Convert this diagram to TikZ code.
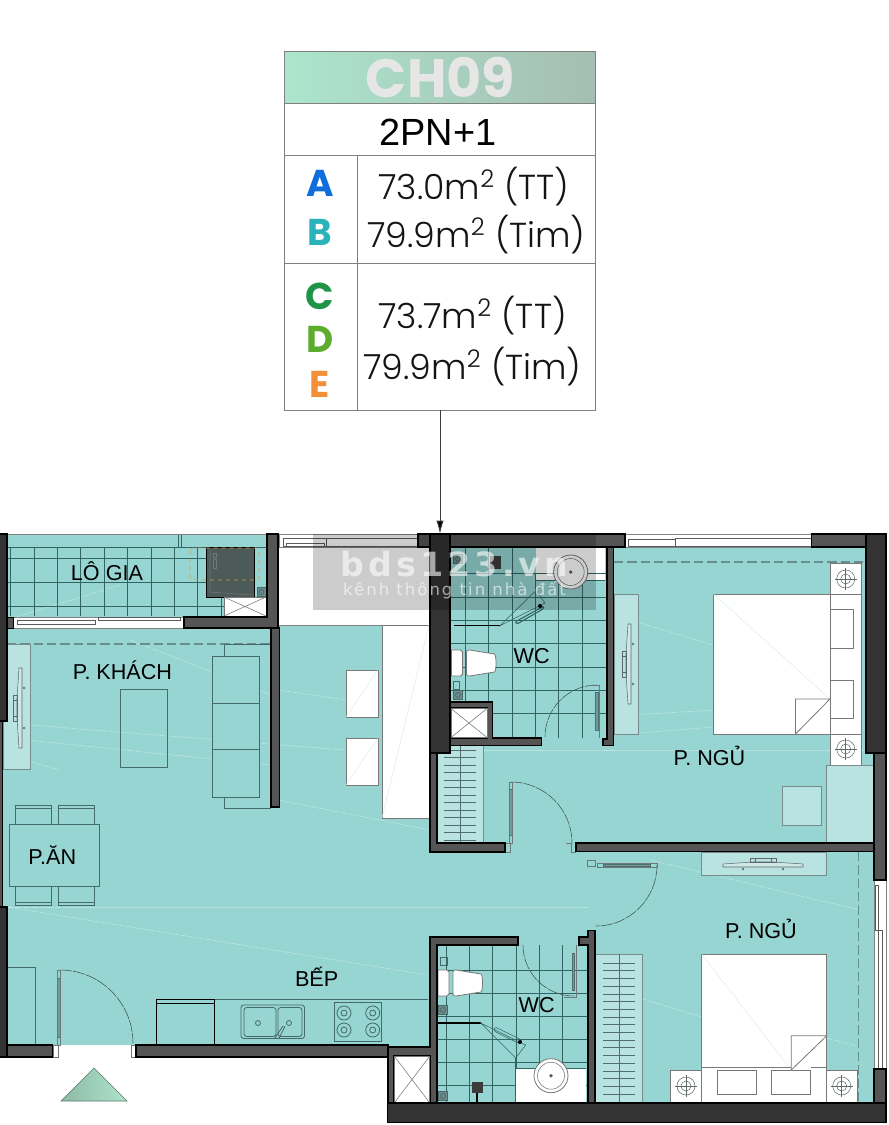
\documentclass[tikz,border=0pt]{standalone}
\usepackage{fontspec}
\setmainfont{Liberation Sans}
\newfontfamily\areafont{Poppins Light}
\newfontfamily\tagfont{Poppins Bold}
\newfontfamily\markfont[LetterSpace=12]{DejaVu Sans}
\usetikzlibrary{arrows.meta}

\tikzset{every picture/.style={line width=0.75pt}}
\tikzset{
  floorfill/.style={fill={rgb, 255:red, 150; green, 213; blue, 209 },draw=none},
  paleset/.style={fill={rgb, 255:red, 184; green, 227; blue, 224 },draw={rgb, 255:red, 120; green, 140; blue, 140 },line width=0.5pt},
  wallgrey/.style={fill={rgb, 255:red, 85; green, 85; blue, 85 },draw=black,line width=1pt},
  walldark/.style={fill={rgb, 255:red, 51; green, 51; blue, 51 },draw=black,line width=1pt},
  tileline/.style={draw={rgb, 255:red, 50; green, 100; blue, 100 },line width=0.4pt},
  stepline/.style={draw={rgb, 255:red, 80; green, 110; blue, 110 },line width=0.4pt},
  furn/.style={draw={rgb, 255:red, 70; green, 105; blue, 105 },line width=0.6pt},
  lampline/.style={draw={rgb, 255:red, 95; green, 105; blue, 105 },line width=0.4pt},
  whitefurn/.style={fill=white,draw={rgb, 255:red, 120; green, 120; blue, 120 },line width=0.6pt},
  faintdiag/.style={draw={rgb, 255:red, 208; green, 238; blue, 234 },line width=0.3pt},
  doorleaf/.style={fill={rgb, 255:red, 110; green, 155; blue, 155 },draw={rgb, 255:red, 80; green, 110; blue, 110 },line width=0.4pt},
  doorswing/.style={draw={rgb, 255:red, 60; green, 80; blue, 80 },line width=0.4pt,dash pattern={on 9pt off 0.8pt}},
  frameline/.style={draw={rgb, 255:red, 110; green, 120; blue, 120 },line width=0.4pt},
  sashline/.style={fill=white,draw={rgb, 255:red, 90; green, 90; blue, 90 },line width=0.5pt},
  floordash/.style={draw={rgb, 255:red, 105; green, 140; blue, 140 },line width=0.8pt,dash pattern={on 7pt off 3pt}},
  glint/.style={draw=white,opacity=0.35,line width=0.5pt,dash pattern={on 5pt off 1pt}},
  gridrule/.style={draw={rgb, 255:red, 128; green, 128; blue, 128 },line width=0.6pt},
  roomlabel/.style={font=\fontsize{16.2}{16}\selectfont,text=black},
  arealabel/.style={font=\areafont\fontsize{26}{26}\selectfont,text={rgb, 255:red, 20; green, 20; blue, 20 }},
  taglabel/.style={font=\tagfont\fontsize{28}{28}\selectfont}
}
\newcommand{\lampmark}[2]{
  \draw [lampline] (#1,#2) circle (9) (#1,#2) circle (5);
  \draw [lampline] (#1-11,#2) -- (#1+11,#2) (#1,#2-11) -- (#1,#2+11);
}
\newcommand{\drainmark}[2]{
  \draw [fill={rgb, 255:red, 110; green, 140; blue, 140 },furn] (#1-4.5,#2-4.5) rectangle (#1+4.5,#2+4.5);
  \draw [furn] (#1,#2) circle (2.5);
}
\newcommand{\shaftbox}[4]{
  \draw [whitefurn] (#1,#2) rectangle (#3,#4);
  \draw [frameline] (#1,#2) -- (#3,#4) (#1,#4) -- (#3,#2);
}
\newcommand{\bowlset}[2]{
  \draw [whitefurn] (#1,#2) -- (#1+9,#2) -- (#1+11,#2+2) -- (#1+11,#2+24) -- (#1+9,#2+26) -- (#1,#2+26) -- cycle;
  \draw [whitefurn] (#1+15,#2+2) .. controls (#1+15,#2) and (#1+16,#2) .. (#1+18,#2) -- (#1+43,#2+4) .. controls (#1+45,#2+5) and (#1+45,#2+21) .. (#1+43,#2+22) -- (#1+18,#2+26) .. controls (#1+16,#2+26) and (#1+15,#2+26) .. (#1+15,#2+24) -- cycle;
}
\newcommand{\screenset}[3]{
  \begin{scope}[shift={(#1,#2)},rotate=#3]
    \draw [lampline,fill={rgb, 255:red, 205; green, 232; blue, 230 }] (-1,-40) -- (2,-40) -- (2,40) -- (-1,40) -- (-3,10) -- (-3,-10) -- cycle;
    \draw [lampline] (-3,-13) rectangle (-7,13) (-6,-8) -- (-3,-8) (-6,8) -- (-3,8);
    \draw [lampline] (4,-20) circle (1) (4,20) circle (1);
  \end{scope}
}
\newcommand{\basinset}[2]{
  \draw [whitefurn] (#1,#2) circle (17);
  \draw [frameline] (#1,#2) circle (13.5);
  \draw [fill={rgb, 255:red, 90; green, 90; blue, 90 },draw=none] (#1,#2) circle (1.8);
}

\begin{document}
\begin{tikzpicture}[x=0.75pt,y=0.75pt,yscale=-1,xscale=1]
\useasboundingbox (0,0) rectangle (889,1125);

%Shape: Floor
\fill [floorfill] (3,534) -- (278,534) -- (278,625) -- (430,625) -- (430,534) -- (875,534) -- (875,1103) -- (388,1103) -- (388,1045) -- (3,1045) -- cycle ;

%Straight Lines: floor glints
\draw [glint] (7,907) -- (428,975) ;
\draw [glint] (7,907) -- (588,907) ;
\draw [glint] (278,690) -- (430,712) ;
\draw [glint] (30,725) -- (345,750) ;
\draw [glint] (5,755) -- (60,770) ;
\draw [glint] (278,800) -- (430,830) ;
\draw [glint] (614,615) -- (713,645) ;
\draw [glint] (614,716) -- (866,701) ;
\draw [glint] (614,735) -- (713,727) ;
\draw [glint] (450,750) -- (875,750) ;
\draw [glint] (650,860) -- (860,910) ;
\draw [glint] (595,984) -- (701,1017) ;
\draw [glint] (826,1038) -- (858,1046) ;
\draw [glint] (7,620) -- (120,585) ;
\draw [glint] (130,640) -- (271,695) ;
\draw [glint] (7,738) -- (271,765) ;

%Shape: void beside the loggia
\fill [white] (279,547) rectangle (429,625);
\draw [gridrule] (279,625) -- (429,625);
\draw [whitefurn] (382,625) rectangle (429,818);
\draw [faintdiag] (382,818) -- (429,625);
\draw [whitefurn] (346,670) rectangle (378,717);
\draw [faintdiag] (346,717) -- (378,670);
\draw [whitefurn] (346,738) rectangle (378,785);
\draw [faintdiag] (346,785) -- (378,738);

%Shape: Loggia tiles
\foreach \tx in {10,34,57,80,104,127,151,174,197,221} \draw [tileline] (\tx,547) -- (\tx,616);
\foreach \ty in {558,582,606} \draw [tileline] (8,\ty) -- (224,\ty);
\draw [tileline] (8,547) -- (267,547) (178,534) -- (178,547) (181,534) -- (181,547);
\draw [gridrule] (7,534.5) -- (267,534.5);

%Shape: washer
\draw [fill={rgb, 255:red, 76; green, 90; blue, 88 },draw=black,line width=0.5pt] (206,547) rectangle (254,597);
\draw [frameline] (210,550) -- (210,592) -- (252,595);
\draw [frameline] (213,553) rectangle (216,557) (213,559) rectangle (216,568);
\draw [draw={rgb, 255:red, 210; green, 160; blue, 80 },line width=0.4pt,dashed,rounded corners=2pt] (190,548) rectangle (259,580);
\shaftbox{224}{597}{266}{616}
\drainmark{261.5}{592}

%Shape: Living room furniture
\draw [floordash] (7,644) -- (271,644);
\draw [furn] (224,644) rectangle (270,808);
\draw [furn,floorfill] (212,656) rectangle (259,703);
\draw [furn,floorfill] (212,703) rectangle (259,749);
\draw [furn,floorfill] (212,749) rectangle (259,797);
\draw [furn] (212,656) rectangle (259,703) (212,703) rectangle (259,749) (212,749) rectangle (259,797);
\draw [furn] (120,689) rectangle (167,767);
\draw [paleset] (3,644) rectangle (30,769);
\screenset{20}{708}{0}

%Shape: Dining set
\draw [furn] (15,805) rectangle (51,824) (58,805) rectangle (94,824);
\draw [furn] (15,886) rectangle (51,905) (58,886) rectangle (94,905);
\draw [furn] (15,902) -- (51,902) (58,902) -- (94,902) (15,808) -- (51,808) (58,808) -- (94,808);
\draw [furn] (9.5,824) rectangle (99.5,886);

%Shape: Kitchen
\draw [furn] (7,967) rectangle (35,1045);
\draw [furn] (156.5,999) -- (428,999);
\draw [draw=black,line width=0.5pt] (156.5,999) rectangle (214.5,1045) (156.5,1003) -- (214.5,1003);
\draw [furn,rounded corners=2pt] (241,1005) rectangle (304.5,1038.5) (244,1007.5) rectangle (276,1036.5) (278,1007.5) rectangle (302,1036.5);
\draw [furn] (258,1023) circle (2.5) (289,1023) circle (2.5);
\draw [furn] (283,1026) -- (275,1038) -- (279,1038.5) -- (285,1026) ;
\draw [furn] (334,1002) rectangle (381.5,1041.5);
\foreach \bx in {344,372.7} \foreach \by in {1013,1030} {
  \draw [furn] (\bx,\by) circle (7) (\bx,\by) circle (3);
}

%Shape: Bedroom one
\draw [floordash] (614,562) -- (866,562);
\draw [paleset] (614,594) rectangle (638.5,734);
\screenset{629}{664}{0}
\draw [whitefurn] (830.5,563) rectangle (861.5,594);
\draw [whitefurn] (830.5,734) rectangle (861.5,765.5);
\lampmark{845.7}{579}
\lampmark{845.7}{749}
\draw [whitefurn] (826.5,594) rectangle (861.5,734);
\draw [whitefurn] (827,609) rectangle (853.5,648) (827,680) rectangle (853.5,718.5);
\draw [whitefurn] (713.5,594) rectangle (830,734);
\draw [faintdiag] (713.5,594) -- (830,699);
\draw [whitefurn] (795.5,734) -- (795.5,699) -- (830,699) -- cycle;
\draw [paleset] (826.5,765.5) rectangle (873,843);
\draw [paleset] (782,786) rectangle (821.5,825.5);

%Shape: Bedroom two
\draw [floordash] (858.7,852) -- (858.7,1103);
\draw [paleset] (701.7,852) rectangle (826.7,875);
\screenset{763}{865}{90}
\draw [whitefurn] (670.7,1070.7) rectangle (701.7,1103) (826.7,1070.7) rectangle (857,1103);
\lampmark{686}{1086}
\lampmark{841.7}{1086}
\draw [whitefurn] (701.7,954) rectangle (826.7,1103);
\draw [faintdiag] (701.7,954) -- (791.3,1070);
\draw [whitefurn] (701.7,1067) -- (791.3,1067) (810.7,1067) -- (826.7,1067);
\draw [whitefurn] (717,1070) rectangle (756.7,1094) (771.7,1070) rectangle (810.7,1094);
\draw [whitefurn] (791.3,1070) -- (791.3,1035.7) -- (826.7,1035.7) -- cycle;

%Shape: Stair panels
\draw [paleset] (437,745) rectangle (483,843);
\foreach \ly in {750,757.5,...,842} \draw [stepline] (444,\ly) -- (476,\ly);
\draw [stepline] (460.6,745) -- (460.6,843);
\draw [paleset] (595.7,954) rectangle (642,1103);
\foreach \ly in {963,970.7,...,1100} \draw [stepline] (603,\ly) -- (635,\ly);
\draw [stepline] (619,954) -- (619,1103);

%Shape: WC one
\fill [white] (535.7,547) rectangle (605,580.7);
\draw [tileline] (535.7,580.7) -- (605,580.7);
\foreach \tx in {465,488,512,535,558,582} \draw [tileline] (\tx,573) -- (\tx,738);
\foreach \tx in {465,488,512} \draw [tileline] (\tx,547) -- (\tx,573);
\foreach \ty in {573,597,620,643,667,690,713} \draw [tileline] (450,\ty) -- (607,\ty);
\draw [draw=black,line width=0.8pt] (454,625.7) -- (500,625.7);
\draw [tileline] (500,625.7) -- (535.7,590.7) -- (545,603) -- cycle;
\draw [tileline,line width=0.8pt,rounded corners=1pt] (515,622) -- (544,606) -- (543,609) -- (517,624) -- cycle;
\draw [fill=black,draw=none] (540,606) circle (2);
\draw [fill={rgb, 255:red, 60; green, 60; blue, 60 },draw=none] (490,556) rectangle (500.7,569);
\drainmark{458}{559}
\basinset{570.7}{572}
\bowlset{451.5}{650}
\draw [furn] (453,681) rectangle (459,689);
\drainmark{458}{695}
\draw [doorswing] (597,685) arc (-90:-180:52);
\draw [doorleaf] (595.5,692) rectangle (598,730);
\draw [frameline] (589,685) -- (599,685) -- (599,738);

%Shape: WC two
\foreach \tx in {446.7,469,492.7,516,539,562.7} \draw [tileline] (\tx,945) -- (\tx,1103);
\foreach \ty in {970,993,1016,1039,1062,1085.7} \draw [tileline] (437,\ty) -- (588,\ty);
\fill [white] (515.7,1068) rectangle (586,1103);
\draw [tileline] (515.7,1068) -- (586,1068);
\draw [draw=black,line width=0.8pt] (438,1023) -- (480.7,1023);
\draw [tileline] (480.7,1023) -- (515.7,1058) -- (525.7,1045) -- cycle;
\draw [tileline,line width=0.8pt] (515.7,1058) -- (515.7,1103);
\draw [tileline,rounded corners=1pt] (495,1027) -- (522,1040) -- (520,1044) -- (494,1031) -- cycle;
\draw [fill=black,draw=none] (520,1042) circle (2);
\draw [fill={rgb, 255:red, 60; green, 60; blue, 60 },draw=none] (471.7,1081.7) rectangle (483,1093);
\draw [draw=black,line width=0.8pt] (477,1093) -- (477,1103);
\drainmark{443}{1010}
\drainmark{443}{1096}
\basinset{551}{1075.7}
\bowlset{438}{970}
\draw [furn] (440,957) rectangle (447,965);
\draw [doorswing] (523,945) arc (180:90:51);
\draw [doorleaf] (572,953) rectangle (574.5,990);
\draw [frameline] (564,997) -- (576,997) -- (576,945);

%Shape: Entrance and hall doors
\fill [white] (52,1045) rectangle (136,1057);
\draw [doorswing] (60,970) arc (-90:0:73);
\draw [doorleaf] (57,978) rectangle (60.5,1037);
\draw [frameline] (57,970) rectangle (60.5,1045) (53,1045) rectangle (58,1057) (131,1045) rectangle (135.5,1057);
\draw [doorswing] (511,782) arc (-90:0:61);
\draw [doorleaf] (509.5,789) rectangle (512,835);
\draw [frameline] (509.5,782) rectangle (512,843) (505.5,843) -- (510,843) -- (510,852) -- (505.5,852) (566,843) -- (571,843) -- (571,852) -- (576,852);
\draw [doorswing] (657,865) arc (0:90:61);
\draw [doorleaf] (603,864) rectangle (650,866.5);
\draw [frameline] (597,863.5) rectangle (657,867) (587,860) rectangle (595,866);

%Shape: Windows
\draw [sashline,draw={rgb, 255:red, 130; green, 130; blue, 130 }] (13,617) rectangle (184,628);
\draw [sashline] (17,620) rectangle (95,624.5) (98,617) rectangle (180,620.5);
\draw [sashline,draw={rgb, 255:red, 130; green, 130; blue, 130 }] (279,534) rectangle (418,547);
\draw [sashline] (283,538.5) rectangle (326,546) (326,538.5) rectangle (418,546) (286,543) rectangle (324,546);
\draw [sashline,draw={rgb, 255:red, 130; green, 130; blue, 130 }] (625,534) rectangle (811.5,547);
\draw [sashline] (628,539) rectangle (675,546.5) (675,538.5) rectangle (811,546);
\draw [sashline,draw={rgb, 255:red, 130; green, 130; blue, 130 }] (874,880) rectangle (886,1069);
\draw [sashline] (875,885) rectangle (878,930) (878,930) rectangle (882,1068);

%Shape: Walls
\draw [wallgrey] (267,534) -- (278,534) -- (278,628) -- (184,628) -- (184,617) -- (267,617) -- cycle;
\draw [wallgrey] (271,628) rectangle (279.5,807);
\draw [walldark] (-2,534) rectangle (7,721);
\draw [wallgrey] (-2,721) rectangle (2.5,907);
\draw [walldark] (-2,907) rectangle (7,1057);
\draw [wallgrey,line width=0.5pt] (7,617) rectangle (13,628);
\draw [wallgrey] (7,1045) rectangle (52.5,1057);
\draw [wallgrey] (136,1045) rectangle (388,1057);
\draw [wallgrey] (418,534) rectangle (430,547);
\draw [wallgrey] (450,534) rectangle (625,547);
\draw [wallgrey] (811.5,534) rectangle (866,547);
\draw [wallgrey] (607,547) -- (613.5,547) -- (613.5,745.5) -- (603,745.5) -- (603,739) -- (607,739) -- cycle;
\draw [wallgrey] (450,738) -- (487,738) -- (487,708) -- (450,708) -- (450,702) -- (492.7,702) -- (492.7,738) -- (541.7,738) -- (541.7,745.5) -- (450,745.5) -- cycle;
\shaftbox{451}{708.5}{487}{737.5}
\draw [wallgrey] (430,753) -- (437,753) -- (437,843) -- (505,843) -- (505,852) -- (430,852) -- cycle;
\draw [wallgrey] (576,843) rectangle (873.5,851.7);
\draw [walldark] (430,534) rectangle (450,753);
\draw [walldark] (866,534) rectangle (886,753);
\draw [wallgrey] (874,753) rectangle (886,880);
\draw [wallgrey] (874,1069) rectangle (886,1103);
\draw [wallgrey] (430,945) -- (430,937) -- (518,937) -- (518,945) -- (437,945) -- (437,1103) -- (430,1103) -- (430,1055.5) -- (394,1055.5) -- (394,1103) -- (388,1103) -- (388,1047) -- (430,1047) -- cycle;
\shaftbox{394.5}{1056.5}{429.5}{1102.5}
\draw [wallgrey] (588,930.5) -- (595,930.5) -- (595,1103) -- (588,1103) -- (588,945) -- (579,945) -- (579,937) -- (588,937) -- cycle;
\draw [walldark] (387.5,1103) rectangle (886,1122.5);

%Shape: Entrance triangle
\shade [left color={rgb, 255:red, 140; green, 185; blue, 165 },right color={rgb, 255:red, 175; green, 228; blue, 205 },draw={rgb, 255:red, 90; green, 120; blue, 110 },line width=0.4pt] (61,1101) -- (94,1068) -- (127,1101) -- cycle;

%Shape: Watermark
\fill [black,opacity=0.2] (313,534) rectangle (596,610);
\draw (454.5,564) node (wmname) [text=white,opacity=0.6,font=\markfont\bfseries\fontsize{25}{25}\selectfont] {bds123.vn};
\draw (454.5,590) node (wmline) [text=white,opacity=0.6,font=\markfont\fontsize{12.4}{12}\selectfont] {kênh thông tin nhà đất};

%Shape: Type table
\shade [left color={rgb, 255:red, 172; green, 229; blue, 205 },right color={rgb, 255:red, 165; green, 190; blue, 178 }] (284.5,51.7) rectangle (595.5,103.3);
\draw [gridrule] (284.5,51.7) rectangle (595.5,410.3);
\draw [gridrule] (284.5,103.3) -- (595.5,103.3) (284.5,155.7) -- (595.5,155.7) (284.5,263.3) -- (595.5,263.3) (357.3,155.7) -- (357.3,410.3);
\coordinate (tablefoot) at (440,410.3);
\coordinate (walltop) at (440,534);
\draw [draw={rgb, 255:red, 60; green, 60; blue, 60 },line width=0.75pt,-{Latex[length=10pt,width=5.5pt,fill=black]}] (tablefoot) -- (walltop);

% Text Node
\draw (440.5,77) node (title) [text={rgb, 255:red, 230; green, 230; blue, 230 },font=\tagfont\fontsize{40.5}{40.5}\selectfont] {CH09};
% Text Node
\draw (438,132.5) node (typename) [font=\fontsize{28.4}{28.4}\selectfont] {2PN+1};
% Text Node
\draw (320,183) node (tagA) [taglabel,text={rgb, 255:red, 15; green, 110; blue, 220 }] {A};
% Text Node
\draw (320,232) node (tagB) [taglabel,text={rgb, 255:red, 43; green, 179; blue, 187 }] {B};
% Text Node
\draw (320,296) node (tagC) [taglabel,text={rgb, 255:red, 31; green, 148; blue, 72 }] {C};
% Text Node
\draw (320,339) node (tagD) [taglabel,text={rgb, 255:red, 92; green, 173; blue, 46 }] {D};
% Text Node
\draw (320,384) node (tagE) [taglabel,text={rgb, 255:red, 242; green, 143; blue, 56 }] {E};
% Text Node
\draw (474,187) node (areaA) [arealabel] {73.0m\textsuperscript{2} (TT)};
% Text Node
\draw (476.5,235) node (areaB) [arealabel] {79.9m\textsuperscript{2} (Tim)};
% Text Node
\draw (472.5,316) node (areaC) [arealabel] {73.7m\textsuperscript{2} (TT)};
% Text Node
\draw (472.5,367) node (areaD) [arealabel] {79.9m\textsuperscript{2} (Tim)};
% Text Node
\draw (107,571) node (logia) [roomlabel] {LÔ GIA};
% Text Node
\draw (122.5,670.7) node (living) [roomlabel] {P. KHÁCH};
% Text Node
\draw (531.7,656) node (wcone) [roomlabel] {WC};
% Text Node
\draw (709.5,755.7) node (bedone) [roomlabel] {P. NGỦ};
% Text Node
\draw (52.3,854.7) node (dining) [roomlabel] {P.ĂN};
% Text Node
\draw (316.7,977) node (kitchen) [roomlabel] {BẾP};
% Text Node
\draw (536.7,1005) node (wctwo) [roomlabel] {WC};
% Text Node
\draw (761,929) node (bedtwo) [roomlabel] {P. NGỦ};

\end{tikzpicture}
\end{document}
